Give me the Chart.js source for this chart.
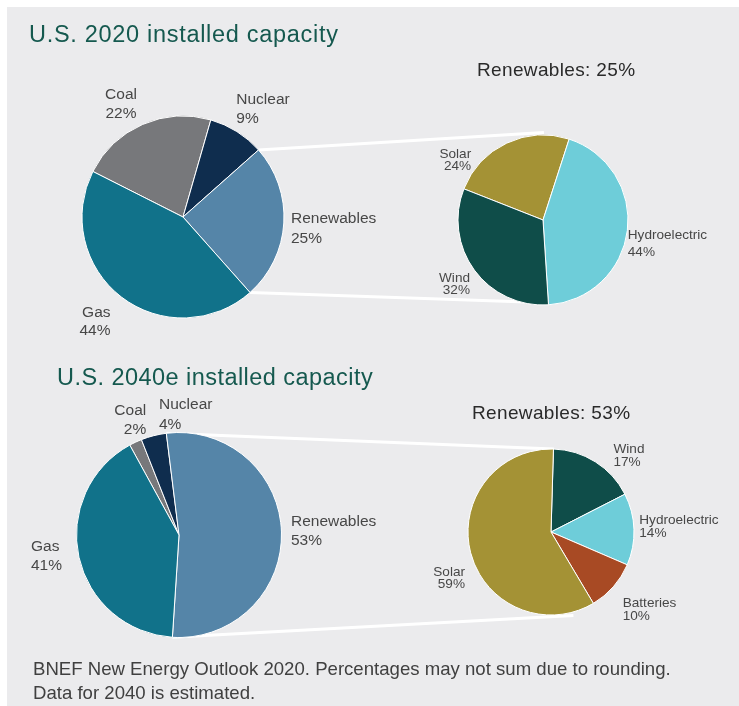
<!DOCTYPE html>
<html>
<head>
<meta charset="utf-8">
<script src="https://cdn.jsdelivr.net/npm/chart.js@4/dist/chart.umd.min.js"></script>
<style>
html,body{margin:0;padding:0;background:#fff;}
#page{position:relative;width:739px;height:706px;overflow:hidden;font-family:"Liberation Sans",Arial,sans-serif;}
#panel{position:absolute;left:7px;top:7px;right:0;bottom:0;background:#ebebed;}
.title{position:absolute;font-size:23.5px;line-height:24px;color:#15594f;letter-spacing:0.7px;white-space:nowrap;}
.sub{position:absolute;font-size:19px;line-height:19px;color:#2a2a2a;letter-spacing:0.35px;white-space:nowrap;}
.note{position:absolute;left:33px;top:657px;font-size:18.6px;line-height:23.5px;color:#404040;white-space:nowrap;}
canvas{position:absolute;}
</style>
</head>
<body>
<div id="page">
  <div id="panel"></div>
  <canvas id="links" width="739" height="706" style="left:0;top:0"></canvas>
  <div class="title" style="left:29px;top:21.5px">U.S. 2020 installed capacity</div>
  <div class="title" style="left:57px;top:365px;letter-spacing:0.45px">U.S. 2040e installed capacity</div>
  <div class="sub" id="sub2020" style="left:477px;top:60px"></div>
  <div class="sub" id="sub2040" style="left:472px;top:403px"></div>
  <canvas id="pie2020" width="400" height="400" style="left:-17px;top:17px"></canvas>
  <canvas id="renew2020" width="400" height="400" style="left:343px;top:20px"></canvas>
  <canvas id="pie2040" width="400" height="400" style="left:-21px;top:335px"></canvas>
  <canvas id="renew2040" width="400" height="400" style="left:351px;top:332px"></canvas>
  <div class="note">BNEF New Energy Outlook 2020. Percentages may not sum due to rounding.<br>Data for 2040 is estimated.</div>
</div>
<script>
// shares in percent
const cats2020 = ['Coal', 'Nuclear', 'Renewables', 'Gas']
const share2020 = [22, 9, 25, 44]
const renewCats2020 = ['Solar', 'Hydroelectric', 'Wind']
const renewShare2020 = [24, 44, 32]

const cats2040 = ['Coal', 'Nuclear', 'Renewables', 'Gas']
const share2040 = [2, 4, 53, 41]
const renewCats2040 = ['Wind', 'Hydroelectric', 'Batteries', 'Solar']
const renewShare2040 = [17, 14, 10, 59]

const colors = {
  Coal: '#77787b',
  Nuclear: '#0f2d4e',
  Renewables: '#5585a8',
  Gas: '#11728a',
  Solar: '#a49235',
  Hydroelectric: '#6ecdd9',
  Wind: '#0f4d49',
  Batteries: '#a84a24'
}

sub2020.textContent = 'Renewables: ' + share2020[cats2020.indexOf('Renewables')] + '%'
sub2040.textContent = 'Renewables: ' + share2040[cats2040.indexOf('Renewables')] + '%'

// text next to each slice: [dx, dy, align, line gap] from the pie centre
const sliceLabels = {
  id: 'sliceLabels',
  afterDatasetsDraw(chart, args, opts) {
    const ctx = chart.ctx
    const meta = chart.getDatasetMeta(0)
    const values = chart.data.datasets[0].data
    ctx.save()
    ctx.font = opts.size + 'px "Liberation Sans", Arial, sans-serif'
    ctx.fillStyle = '#474747'
    ctx.textBaseline = 'alphabetic'
    const lift = opts.size * 0.36
    meta.data.forEach((arc, i) => {
      const p = opts.place[i]
      ctx.textAlign = p[2]
      const x = arc.x + p[0]
      const y = arc.y + p[1]
      ctx.fillText(chart.data.labels[i], x, y - p[3] / 2 + lift)
      ctx.fillText(values[i] + '%', x, y + p[3] / 2 + lift)
    })
    ctx.restore()
  }
}

function makePie(id, labels, values, rotation, radius, size, place) {
  return new Chart(document.getElementById(id), {
    type: 'pie',
    data: {
      labels: labels,
      datasets: [{
        data: values,
        backgroundColor: labels.map(l => colors[l]),
        borderColor: '#ffffff',
        borderWidth: 1
      }]
    },
    options: {
      responsive: false,
      animation: false,
      rotation: rotation,
      radius: radius,
      events: [],
      plugins: {
        legend: {display: false},
        tooltip: {enabled: false},
        sliceLabels: {size: size, place: place}
      }
    },
    plugins: [sliceLabels]
  })
}

const c1 = makePie('pie2020', cats2020, share2020, -63.2, 101, 15.5, [
  [-62, -114.5, 'center', 19],
  [53.3, -109, 'left', 19],
  [108, 10.5, 'left', 19.5],
  [-72.5, 103, 'right', 18]
])
const c2 = makePie('renew2020', renewCats2020, renewShare2020, -68.5, 85, 13.6, [
  [-71.8, -61.3, 'right', 12],
  [84.8, 22.8, 'left', 17],
  [-73, 63.5, 'right', 12]
])
const c3 = makePie('pie2040', cats2040, share2040, -28.7, 102.5, 15.5, [
  [-32.8, -116, 'right', 19.5],
  [-20, -121.5, 'left', 19.2],
  [112, -5, 'left', 19.7],
  [-148, 20, 'left', 19.4]
])
const c4 = makePie('renew2040', renewCats2040, renewShare2040, 1.7, 83, 13.6, [
  [62.5, -77.3, 'left', 12.7],
  [88.3, -6, 'left', 12.8],
  [71.7, 76.5, 'left', 12.4],
  [-86, 45, 'right', 11.8]
])

// white connector lines from the Renewables slice to the breakdown pie
function arcPoint(chart, angle, r) {
  const arc = chart.getDatasetMeta(0).data[0]
  const cv = chart.canvas
  return [cv.offsetLeft + arc.x + Math.cos(angle) * r, cv.offsetTop + arc.y + Math.sin(angle) * r]
}
function link(main, cats, sub, ends) {
  const ctx = document.getElementById('links').getContext('2d')
  const slice = main.getDatasetMeta(0).data[cats.indexOf('Renewables')]
  const subArc = sub.getDatasetMeta(0).data[0]
  const pts = [slice.startAngle, slice.endAngle].map(a => arcPoint(main, a, slice.outerRadius))
  ctx.strokeStyle = '#ffffff'
  ctx.lineWidth = 3
  pts.forEach((p, i) => {
    const a = (ends[i][0] - 90) * Math.PI / 180
    const q = arcPoint(sub, a, subArc.outerRadius + ends[i][1])
    ctx.beginPath()
    ctx.moveTo(p[0], p[1])
    ctx.lineTo(q[0], q[1])
    ctx.stroke()
  })
}
link(c1, cats2020, c2, [[0.6, 2.5], [176.6, -2]])
link(c3, cats2040, c4, [[1.9, 0], [165, 3.5]])
</script>
</body>
</html>
